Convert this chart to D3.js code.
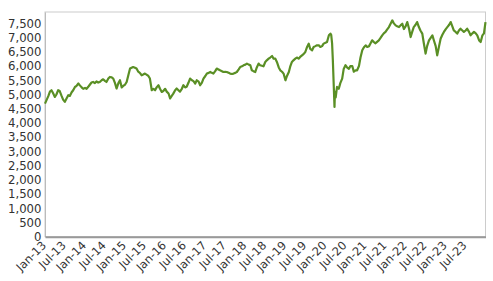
<!DOCTYPE html>
<html><head><meta charset="utf-8">
<script src="https://cdn.jsdelivr.net/npm/d3@7"></script>
<style>body{margin:0;background:#fff}svg{display:block}</style>
</head><body><div id="chart"></div>
<script>
const months = ["01-01","01-15","02-01","02-15","03-01","03-15","04-01","04-15","05-01","05-15","06-01","06-15","07-01","07-15","08-01","08-15","09-01","09-15","10-01","10-15","11-01","11-15","12-01","12-15"];
const v2013 = [4680,4800,4950,5100,5150,5050,4914,5000,5150,5120,4950,4820,4740,4850,4975,4950,5080,5150,5265,5300,5385,5320,5250,5200];
const v2014 = [5230,5200,5280,5350,5420,5440,5400,5460,5420,5440,5500,5535,5480,5440,5560,5616,5600,5560,5400,5209,5400,5500,5250,5300];
const v2015 = [5350,5440,5700,5911,5940,5967,5940,5911,5800,5760,5676,5700,5735,5700,5650,5560,5150,5200,5150,5250,5325,5200,5090,5120];
const v2016 = [5200,5100,5033,4858,4950,5030,5150,5209,5150,5100,5200,5325,5250,5270,5420,5560,5500,5470,5385,5500,5450,5325,5420,5560];
const v2017 = [5650,5735,5760,5791,5760,5735,5820,5911,5880,5850,5820,5791,5800,5791,5760,5735,5720,5735,5760,5791,5880,5967,5990,6026];
const v2018 = [6050,6086,6050,6026,5850,5820,5791,5950,6086,6030,6010,5990,6143,6200,6260,6300,6353,6260,6260,6143,5950,5850,5800,5735];
const v2019 = [5500,5650,5790,6000,6143,6200,6260,6300,6260,6320,6377,6420,6494,6650,6788,6600,6553,6670,6700,6728,6728,6670,6700,6788];
const v2020dates = ["2020-01-01","2020-01-15","2020-02-01","2020-02-15","2020-02-22","2020-03-01","2020-03-08","2020-03-15","2020-03-23","2020-03-27","2020-04-03","2020-04-15","2020-05-01","2020-05-15","2020-06-01","2020-06-15","2020-07-01","2020-07-15","2020-08-01","2020-08-15","2020-09-01","2020-09-15","2020-10-01","2020-10-15","2020-11-01","2020-11-15","2020-12-01","2020-12-15"];
const v2020 = [6820,6845,7080,7140,7100,6800,6200,5440,4560,5100,4900,5265,5200,5400,5560,5900,6030,5950,5900,6000,6000,5800,5850,5850,6000,6300,6553,6650];
const v2021 = [6728,6670,6700,6800,6904,6850,6800,6850,6904,6980,7080,7150,7200,7280,7370,7480,7606,7500,7430,7400,7370,7430,7489,7300];
const v2022 = [7400,7547,7300,7020,7200,7370,7450,7547,7370,7250,7140,6800,6437,6700,6900,6980,7080,6900,6700,6377,6700,6960,7100,7200];
const v2023 = [7300,7370,7450,7547,7400,7250,7200,7140,7250,7313,7250,7200,7250,7313,7200,7080,7150,7200,7150,7080,6900,6845,7080,7150];
const lastDate = "2023-12-29", lastValue = 7547;
const yTicks = d3.range(0, 7501, 500);
const xTickLabels = ["Jan-13","Jul-13","Jan-14","Jul-14","Jan-15","Jul-15","Jan-16","Jul-16","Jan-17","Jul-17","Jan-18","Jul-18","Jan-19","Jul-19","Jan-20","Jul-20","Jan-21","Jul-21","Jan-22","Jul-22","Jan-23","Jul-23"];

const parse = d3.timeParse("%Y-%m-%d");
const data = [];
const yearly = {2013:v2013,2014:v2014,2015:v2015,2016:v2016,2017:v2017,2018:v2018,2019:v2019,2021:v2021,2022:v2022,2023:v2023};
for (let y = 2013; y <= 2023; y++) {
  if (y === 2020) { v2020dates.forEach((d,i)=>data.push({date:parse(d), value:v2020[i]})); continue; }
  yearly[y].forEach((v,i)=>data.push({date:parse(y+"-"+months[i]), value:v}));
}
data.push({date:parse(lastDate), value:lastValue});

const W = 493, H = 281;
const m = {left:45, right:7.5, top:12, bottom:44.3};
const svg = d3.select("#chart").append("svg").attr("width",W).attr("height",H);
const x = d3.scaleTime().domain([parse("2013-01-01"), parse(lastDate)]).range([m.left, W-m.right]);
const y = d3.scaleLinear().domain([0, 7900]).range([H-m.bottom, m.top]);

svg.append("rect").attr("x",m.left).attr("y",m.top).attr("width",W-m.right-m.left).attr("height",H-m.bottom-m.top)
  .attr("fill","none").attr("stroke","#cccccc").attr("stroke-width",1);

const fmt = d3.format(",");
const yAxis = d3.axisLeft(y).tickValues(yTicks).tickFormat(fmt).tickSize(0).tickPadding(3.5);
const gy = svg.append("g").attr("transform",`translate(${m.left},0)`).call(yAxis);
gy.select(".domain").attr("stroke","#bbbbbb");
gy.selectAll("text").attr("font-family","DejaVu Sans").attr("font-size",11.7).attr("fill","#333");

const tickDates = xTickLabels.map(s=>d3.timeParse("%b-%y")(s));
const xAxis = d3.axisBottom(x).tickValues(tickDates).tickFormat((d,i)=>xTickLabels[i]).tickSize(0);
const gx = svg.append("g").attr("transform",`translate(0,${H-m.bottom})`).call(xAxis);
gx.select(".domain").attr("stroke","#999999").attr("stroke-width",2);
gx.selectAll("text").attr("font-family","DejaVu Sans").attr("font-size",11.5).attr("fill","#333")
  .attr("text-anchor","end").attr("dy","0.35em").attr("y",0)
  .attr("transform","translate(-1.5,6.5) rotate(-45)");

const line = d3.line().x(d=>x(d.date)).y(d=>y(d.value));
svg.append("path").datum(data).attr("d",line).attr("fill","none").attr("stroke","#5a8f25").attr("stroke-width",2.2).attr("stroke-linejoin","round");
</script></body></html>
